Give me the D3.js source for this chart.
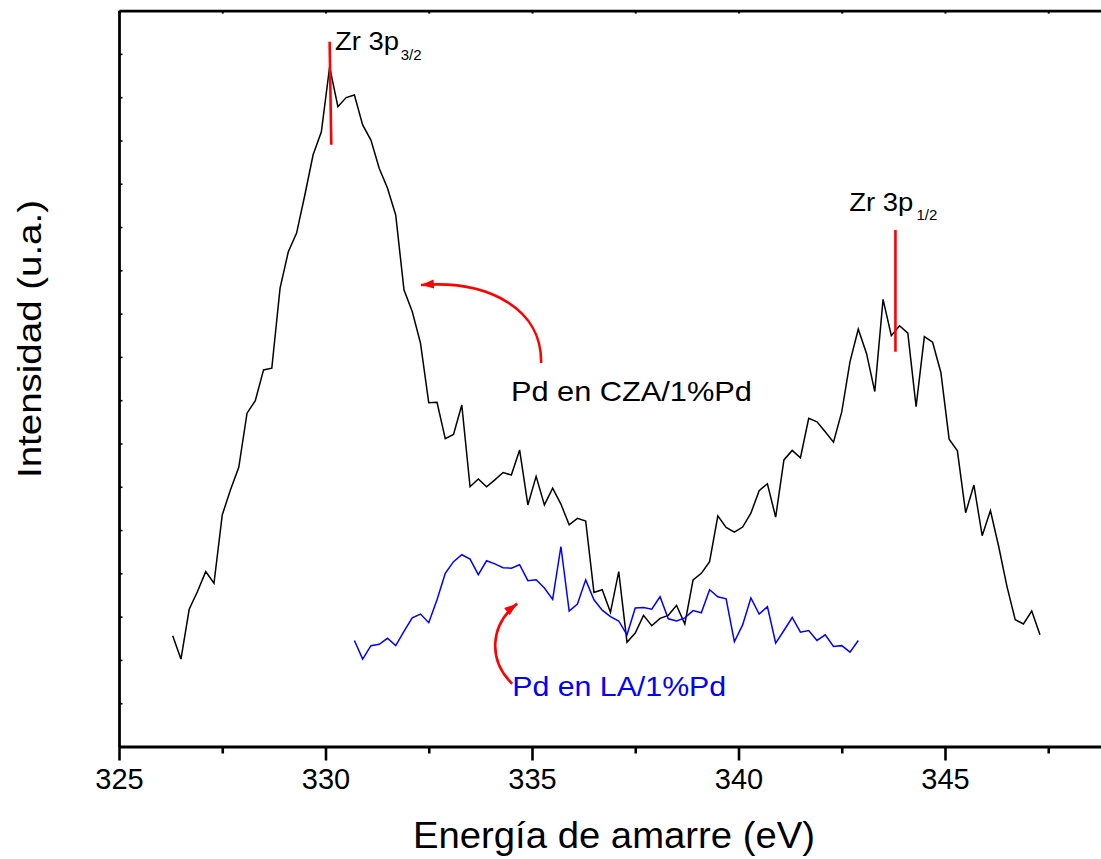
<!DOCTYPE html>
<html>
<head>
<meta charset="utf-8">
<script src="https://cdn.jsdelivr.net/npm/d3@7"></script>
<style>
  html, body { margin: 0; padding: 0; background: #fff; }
  svg { display: block; font-family: "Liberation Sans", Arial, Helvetica, sans-serif; }
</style>
</head>
<body>
<svg id="chart" width="1101" height="859"></svg>
<script>
// ---------- DATA ----------
// Binding energy (eV) of each point, black curve (Pd en CZA/1%Pd)
const czaEnergy = [
  326.3,326.5,326.7,326.9,327.1,327.3,327.5,327.7,327.9,328.1,
  328.3,328.5,328.7,328.9,329.1,329.3,329.5,329.7,329.9,330.1,
  330.3,330.5,330.7,330.9,331.1,331.3,331.5,331.7,331.9,332.1,
  332.3,332.5,332.7,332.9,333.1,333.3,333.5,333.7,333.9,334.1,
  334.3,334.5,334.7,334.9,335.1,335.3,335.5,335.7,335.9,336.1,
  336.3,336.5,336.7,336.9,337.1,337.3,337.5,337.7,337.9,338.1,
  338.3,338.5,338.7,338.9,339.1,339.3,339.5,339.7,339.9,340.1,
  340.3,340.5,340.7,340.9,341.1,341.3,341.5,341.7,341.9,342.1,
  342.3,342.5,342.7,342.9,343.1,343.3,343.5,343.7,343.9,344.1,
  344.3,344.5,344.7,344.9,345.1,345.3,345.5,345.7,345.9,346.1,
  346.3,346.5,346.7,346.9,347.1,347.3
];
const czaIntensity = [
  256,202,317,358,404,377,535,593,645,770,
  799,870,874,1059,1143,1186,1274,1367,1420,1570,
  1478,1499,1505,1436,1401,1336,1290,1228,1055,1005,
  932,794,795,711,721,789,600,618,600,616,
  633,627,685,558,624,558,597,560,512,527,
  521,356,362,310,404,241,262,303,279,296,
  303,326,283,385,400,427,533,506,495,507,
  539,591,607,530,662,684,667,758,750,727,
  703,773,889,964,908,820,1033,949,972,955,
  785,947,934,864,710,683,540,604,487,545,
  462,370,293,283,313,258
];
// Blue curve (Pd en LA/1%Pd)
const laEnergy = [
  330.7,330.9,331.1,331.3,331.5,331.7,331.9,332.1,332.3,332.5,
  332.7,332.9,333.1,333.3,333.5,333.7,333.9,334.1,334.3,334.5,
  334.7,334.9,335.1,335.3,335.5,335.7,335.9,336.1,336.3,336.5,
  336.7,336.9,337.1,337.3,337.5,337.7,337.9,338.1,338.3,338.5,
  338.7,338.9,339.1,339.3,339.5,339.7,339.9,340.1,340.3,340.5,
  340.7,340.9,341.1,341.3,341.5,341.7,341.9,342.1,342.3,342.5,
  342.7,342.9
];
const laIntensity = [
  245,202,233,236,250,233,266,297,306,286,
  339,400,427,443,433,397,429,422,413,412,
  420,383,385,366,340,462,313,329,385,339,
  315,300,290,258,320,321,317,346,295,290,
  297,314,309,362,346,341,242,281,343,306,
  323,239,268,298,264,268,245,258,231,233,
  218,245
];
// Axis ticks
const xMajorTicks = [325, 330, 335, 340, 345];
const xMinorTicks = [327.5, 332.5, 337.5, 342.5, 347.5];
const yTicks = [100,200,300,400,500,600,700,800,900,1000,1100,1200,1300,1400,1500,1600];

// Annotations (data coordinates)
const peakLines = [
  { e1: 330.10, v1: 1628, e2: 330.14, v2: 1390 },
  { e1: 343.80, v1: 1193, e2: 343.80, v2: 912 }
];
const peakLabels = [
  { main: "Zr 3p", sub: "3/2", e: 330.23, v: 1609, subE: 331.82, subV: 1587, len: 64 },
  { main: "Zr 3p", sub: "1/2", e: 342.68, v: 1236, subE: 344.31, subV: 1216, len: 64 }
];
const seriesLabels = [
  { text: "Pd en CZA/1%Pd", e: 334.49, v: 798, color: "#000000", len: 241 },
  { text: "Pd en LA/1%Pd",  e: 334.52, v: 117, color: "#0000ff", len: 214 }
];
const arrows = [
  [[335.22, 886], [335.25, 1009], [333.98, 1078], [332.31, 1066]],
  [[334.52, 145], [333.93, 200], [333.98, 281], [334.64, 330]]
];

// ---------- SCALES ----------
const svg = d3.select("#chart");
const x = d3.scaleLinear().domain([325, 350]).range([119, 119 + 25 * 41.3]);
const y = d3.scaleLinear().domain([0, 1700]).range([746.5, 10.6]);

// ---------- AXES ----------
// bottom minor
const gMinor = svg.append("g").attr("transform", `translate(0,${y(0)})`)
  .call(d3.axisBottom(x).tickValues(xMinorTicks).tickSize(7).tickSizeOuter(0).tickFormat(""));
gMinor.select(".domain").remove();
gMinor.selectAll(".tick line").attr("stroke", "#000").attr("stroke-width", 2.6);

const gBottom = svg.append("g").attr("transform", `translate(0,${y(0)})`)
  .call(d3.axisBottom(x).tickValues(xMajorTicks).tickSize(14).tickSizeOuter(0).tickPadding(8).tickFormat(d3.format("d")));
gBottom.select(".domain").attr("stroke", "#000").attr("stroke-width", 2.8);
gBottom.selectAll(".tick line").attr("stroke", "#000").attr("stroke-width", 2.6);
gBottom.selectAll(".tick text").attr("fill", "#000").attr("font-size", 29)
  .attr("font-family", "'Liberation Sans', Arial, sans-serif").attr("dy", "0.71em");

// top axis
const gTop = svg.append("g").attr("transform", `translate(0,${y(1700)})`)
  .call(d3.axisTop(x).tickValues(xMajorTicks.concat(xMinorTicks)).tickSize(-3).tickSizeOuter(0).tickFormat(""));
gTop.select(".domain").attr("stroke", "#000").attr("stroke-width", 2.8);
gTop.selectAll(".tick line").attr("stroke", "#000").attr("stroke-width", 2);

// left axis
const gLeft = svg.append("g").attr("transform", `translate(${x(325)},0)`)
  .call(d3.axisLeft(y).tickValues(yTicks).tickSize(-3.5).tickSizeOuter(0).tickFormat(""));
gLeft.select(".domain").attr("stroke", "#000").attr("stroke-width", 2.8);
gLeft.selectAll(".tick line").attr("stroke", "#000").attr("stroke-width", 1.6);

// ---------- SERIES ----------
const line = d3.line().x(d => x(d[0])).y(d => y(d[1]));
svg.append("path")
  .datum(czaEnergy.map((e, i) => [e, czaIntensity[i]]))
  .attr("d", line).attr("fill", "none").attr("stroke", "#000").attr("stroke-width", 1.5)
  .attr("stroke-linejoin", "miter");
svg.append("path")
  .datum(laEnergy.map((e, i) => [e, laIntensity[i]]))
  .attr("d", line).attr("fill", "none").attr("stroke", "#0000ff").attr("stroke-width", 1.5)
  .attr("stroke-linejoin", "miter");

// ---------- ANNOTATIONS ----------
svg.selectAll("line.peak").data(peakLines).enter().append("line")
  .attr("class", "peak")
  .attr("x1", d => x(d.e1)).attr("y1", d => y(d.v1))
  .attr("x2", d => x(d.e2)).attr("y2", d => y(d.v2))
  .attr("stroke", "#ff0000").attr("stroke-width", 2.6);

peakLabels.forEach(d => {
  svg.append("text").attr("x", x(d.e)).attr("y", y(d.v))
    .attr("font-size", 25).attr("fill", "#000")
    .attr("textLength", d.len).attr("lengthAdjust", "spacingAndGlyphs")
    .text(d.main);
  svg.append("text").attr("x", x(d.subE)).attr("y", y(d.subV))
    .attr("font-size", 15).attr("fill", "#000")
    .text(d.sub);
});

seriesLabels.forEach(d => {
  svg.append("text").attr("x", x(d.e)).attr("y", y(d.v))
    .attr("font-size", 28).attr("fill", d.color)
    .attr("textLength", d.len).attr("lengthAdjust", "spacingAndGlyphs")
    .text(d.text);
});

const defs = svg.append("defs");
defs.append("marker").attr("id", "arrowhead")
  .attr("markerUnits", "userSpaceOnUse")
  .attr("viewBox", "0 -5 13 10").attr("refX", 13).attr("refY", 0)
  .attr("markerWidth", 13).attr("markerHeight", 10).attr("orient", "auto")
  .append("path").attr("d", "M0,-4.5L13,0L0,4.5Z").attr("fill", "#ff0000");

arrows.forEach(pts => {
  const p = pts.map(d => [x(d[0]), y(d[1])]);
  const path = d3.path();
  path.moveTo(p[0][0], p[0][1]);
  path.bezierCurveTo(p[1][0], p[1][1], p[2][0], p[2][1], p[3][0], p[3][1]);
  svg.append("path").attr("d", path.toString())
    .attr("fill", "none").attr("stroke", "#ff0000").attr("stroke-width", 2.6)
    .attr("marker-end", "url(#arrowhead)");
});

// ---------- AXIS TITLES ----------
svg.append("text").attr("x", 614).attr("y", 848)
  .attr("text-anchor", "middle").attr("font-size", 36).attr("fill", "#000")
  .attr("textLength", 402).attr("lengthAdjust", "spacingAndGlyphs")
  .text("Energía de amarre (eV)");
svg.append("text").attr("transform", "translate(41,339) rotate(-90)")
  .attr("text-anchor", "middle").attr("font-size", 34).attr("fill", "#000")
  .attr("textLength", 278).attr("lengthAdjust", "spacingAndGlyphs")
  .text("Intensidad (u.a.)");
</script>
</body>
</html>
